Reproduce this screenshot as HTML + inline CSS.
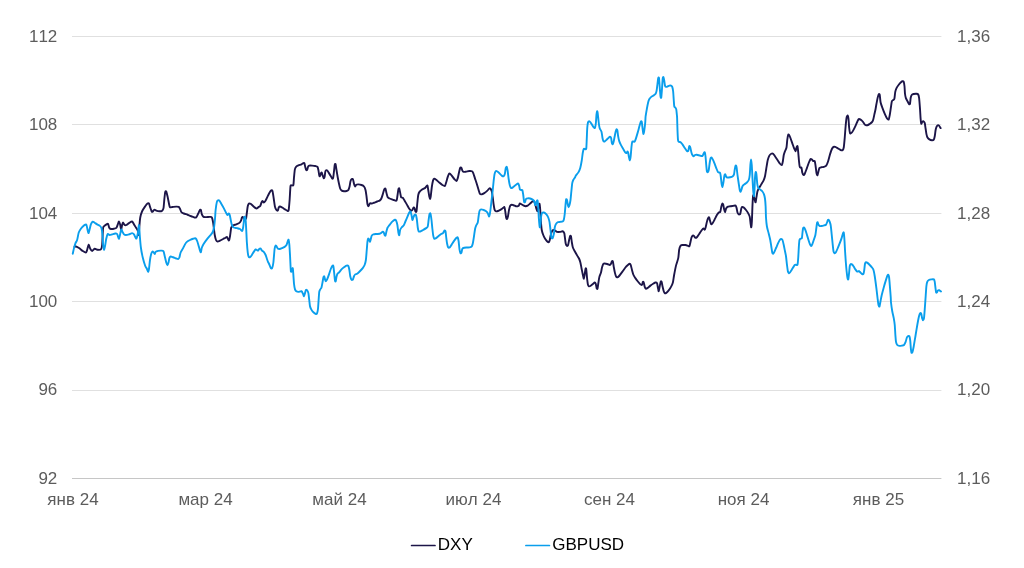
<!DOCTYPE html>
<html><head><meta charset="utf-8"><style>
html,body{margin:0;padding:0;background:#fff;}
body{width:1024px;height:568px;overflow:hidden;position:relative;font-family:"Liberation Sans",sans-serif;}
svg{position:absolute;left:0;top:0;will-change:transform;}
text{font-family:"Liberation Sans",sans-serif;font-size:17px;font-kerning:none;fill:#5c5c5c;}
.leg{fill:#000;}
</style></head><body>
<svg width="1024" height="568" viewBox="0 0 1024 568">
<line x1="72" x2="941.4" y1="36.5" y2="36.5" stroke="#e0e0e0" stroke-width="1"/>
<line x1="72" x2="941.4" y1="124.5" y2="124.5" stroke="#e0e0e0" stroke-width="1"/>
<line x1="72" x2="941.4" y1="213.5" y2="213.5" stroke="#e0e0e0" stroke-width="1"/>
<line x1="72" x2="941.4" y1="301.5" y2="301.5" stroke="#e0e0e0" stroke-width="1"/>
<line x1="72" x2="941.4" y1="390.5" y2="390.5" stroke="#e0e0e0" stroke-width="1"/>
<line x1="72" x2="941.4" y1="478.5" y2="478.5" stroke="#c6c6c6" stroke-width="1"/>
<text x="57.3" y="41.7" text-anchor="end">112</text>
<text x="57.3" y="130.1" text-anchor="end">108</text>
<text x="57.3" y="218.5" text-anchor="end">104</text>
<text x="57.3" y="306.9" text-anchor="end">100</text>
<text x="57.3" y="395.3" text-anchor="end">96</text>
<text x="57.3" y="483.7" text-anchor="end">92</text>
<text x="957" y="41.7">1,36</text>
<text x="957" y="130.1">1,32</text>
<text x="957" y="218.5">1,28</text>
<text x="957" y="306.9">1,24</text>
<text x="957" y="395.3">1,20</text>
<text x="957" y="483.7">1,16</text>
<text x="73" y="505" text-anchor="middle">янв 24</text>
<text x="205.5" y="505" text-anchor="middle">мар 24</text>
<text x="339.5" y="505" text-anchor="middle">май 24</text>
<text x="473.5" y="505" text-anchor="middle">июл 24</text>
<text x="609.5" y="505" text-anchor="middle">сен 24</text>
<text x="743.5" y="505" text-anchor="middle">ноя 24</text>
<text x="878.5" y="505" text-anchor="middle">янв 25</text>
<path fill="none" stroke="#1c1548" stroke-width="1.9" stroke-linejoin="round" stroke-linecap="round" d="M74.5,247C74.59,246.91 74.69,246.12 75.25,246.25C75.81,246.38 78.06,247.41 79,248C79.94,248.59 81.89,250.42 82.75,251C83.61,251.58 85.33,252.75 85.88,252.62C86.43,252.50 86.78,250.98 87.12,250C87.46,249.02 88.23,244.91 88.62,244.75C89.01,244.59 89.81,247.97 90.25,248.75C90.69,249.53 91.57,251.00 92.12,251C92.67,251.00 93.92,248.91 94.62,248.75C95.32,248.59 96.97,249.67 97.75,249.75C98.53,249.83 100.33,249.97 100.88,249.38C101.43,248.79 101.86,247.58 102.12,245C102.39,242.42 102.77,231.09 103,228.75C103.23,226.41 103.56,226.80 104,226.25C104.44,225.70 106.00,224.69 106.5,224.38C107.00,224.07 107.66,223.33 108,223.75C108.34,224.17 108.89,227.09 109.25,227.75C109.61,228.41 110.29,228.88 110.88,229C111.47,229.12 113.30,228.91 114,228.75C114.70,228.59 116.00,228.38 116.5,227.75C117.00,227.12 117.69,224.53 118,223.75C118.31,222.97 118.72,221.34 119,221.5C119.28,221.66 119.98,223.94 120.25,225C120.52,226.06 120.89,230.00 121.12,230C121.35,230.00 121.89,225.94 122.12,225C122.36,224.06 122.69,222.50 123,222.5C123.31,222.50 124.18,224.69 124.62,225C125.06,225.31 125.95,225.24 126.5,225C127.05,224.76 128.30,223.56 129,223.12C129.70,222.68 131.50,221.34 132.12,221.5C132.75,221.66 133.53,223.63 134,224.38C134.47,225.13 135.41,226.72 135.88,227.5C136.35,228.28 137.41,229.68 137.75,230.62C138.09,231.56 138.42,235.55 138.62,235C138.82,234.45 139.18,228.44 139.38,226.25C139.58,224.06 139.91,219.38 140.25,217.5C140.59,215.62 141.50,212.66 142.12,211.25C142.75,209.84 144.58,207.22 145.25,206.25C145.92,205.28 147.03,203.84 147.5,203.5C147.97,203.16 148.66,203.00 149,203.5C149.34,204.00 149.94,206.56 150.25,207.5C150.56,208.44 151.30,210.45 151.5,211C151.70,211.55 151.68,211.85 151.88,211.88C152.08,211.91 152.81,211.53 153.12,211.25C153.43,210.97 153.99,209.70 154.38,209.62C154.77,209.54 155.62,210.42 156.25,210.62C156.88,210.82 158.68,211.22 159.38,211.25C160.08,211.28 161.37,211.27 161.88,210.88C162.39,210.49 163.19,209.64 163.5,208.12C163.81,206.60 164.16,200.78 164.38,198.75C164.60,196.72 165.02,192.79 165.25,191.88C165.48,190.97 165.97,190.95 166.25,191.5C166.53,192.05 167.16,194.72 167.5,196.25C167.84,197.78 168.69,202.38 169,203.75C169.31,205.12 169.56,206.84 170,207.25C170.44,207.66 171.72,207.08 172.5,207C173.28,206.92 175.47,206.63 176.25,206.62C177.03,206.61 178.28,206.61 178.75,206.88C179.22,207.15 179.66,208.08 180,208.75C180.34,209.42 181.03,211.66 181.5,212.25C181.97,212.84 183.00,213.19 183.75,213.5C184.50,213.81 186.56,214.41 187.5,214.75C188.44,215.09 190.39,215.91 191.25,216.25C192.11,216.59 193.75,217.38 194.38,217.5C195.00,217.62 195.78,217.72 196.25,217.25C196.72,216.78 197.68,214.62 198.12,213.75C198.56,212.88 199.41,210.72 199.75,210.25C200.09,209.78 200.61,209.48 200.88,210C201.15,210.52 201.55,213.52 201.88,214.38C202.21,215.24 202.95,216.54 203.5,216.88C204.05,217.22 205.44,217.12 206.25,217.12C207.06,217.12 209.30,216.83 210,216.88C210.70,216.93 211.49,216.80 211.88,217.5C212.27,218.20 212.89,221.25 213.12,222.5C213.35,223.75 213.55,225.94 213.75,227.5C213.95,229.06 214.47,233.44 214.75,235C215.03,236.56 215.66,239.19 216,240C216.34,240.81 217.00,241.42 217.5,241.5C218.00,241.58 219.30,240.93 220,240.62C220.70,240.31 222.42,239.36 223.12,239C223.82,238.64 225.15,238.01 225.62,237.75C226.09,237.49 226.60,236.75 226.88,236.88C227.16,237.00 227.62,238.31 227.88,238.75C228.14,239.19 228.74,240.69 229,240.38C229.26,240.07 229.75,237.70 230,236.25C230.25,234.80 230.84,229.84 231,228.75C231.16,227.66 230.99,227.92 231.25,227.5C231.51,227.08 232.50,225.77 233.12,225.38C233.75,224.99 235.47,224.69 236.25,224.38C237.03,224.07 238.79,223.35 239.38,222.88C239.97,222.41 240.69,221.26 241,220.62C241.31,219.98 241.66,218.22 241.88,217.75C242.10,217.28 242.44,216.75 242.75,216.88C243.06,217.00 243.97,218.52 244.38,218.75C244.79,218.98 245.69,219.53 246,218.75C246.31,217.97 246.66,214.06 246.88,212.5C247.10,210.94 247.49,207.38 247.75,206.25C248.01,205.12 248.64,203.81 249,203.5C249.36,203.19 250.11,203.44 250.62,203.75C251.13,204.06 252.50,205.45 253.12,206C253.75,206.55 255.15,207.82 255.62,208.12C256.09,208.42 256.49,208.53 256.88,208.38C257.27,208.22 258.33,207.18 258.75,206.88C259.17,206.58 259.91,206.55 260.25,206C260.59,205.45 261.22,203.12 261.5,202.5C261.78,201.88 262.22,201.00 262.5,201C262.78,201.00 263.44,202.44 263.75,202.5C264.06,202.56 264.66,201.97 265,201.5C265.34,201.03 266.12,199.49 266.5,198.75C266.88,198.01 267.61,196.40 268,195.62C268.39,194.84 269.21,193.16 269.62,192.5C270.03,191.84 270.89,190.57 271.25,190.38C271.61,190.19 272.19,189.95 272.5,191C272.81,192.05 273.44,196.76 273.75,198.75C274.06,200.74 274.69,205.50 275,206.88C275.31,208.25 275.91,209.28 276.25,209.75C276.59,210.22 277.44,210.90 277.75,210.62C278.06,210.34 278.47,208.01 278.75,207.5C279.03,206.99 279.58,206.50 280,206.5C280.42,206.50 281.54,207.17 282.12,207.5C282.70,207.83 284.00,208.73 284.62,209.12C285.25,209.51 286.62,210.46 287.12,210.62C287.62,210.78 288.31,211.71 288.62,210.38C288.93,209.05 289.38,203.02 289.62,200C289.86,196.98 290.23,188.08 290.5,186.25C290.77,184.42 291.39,185.54 291.75,185.38C292.11,185.22 293.10,185.99 293.38,185C293.66,184.01 293.81,179.45 294,177.5C294.19,175.55 294.60,170.74 294.88,169.38C295.16,168.02 295.81,167.12 296.25,166.62C296.69,166.12 297.72,165.66 298.38,165.38C299.04,165.10 300.88,164.66 301.5,164.38C302.12,164.10 303.02,163.28 303.38,163.12C303.74,162.96 304.15,162.65 304.38,163.12C304.61,163.59 305.02,166.02 305.25,166.88C305.48,167.74 306.00,169.64 306.25,170C306.50,170.36 307.03,170.14 307.25,169.75C307.47,169.36 307.75,167.40 308,166.88C308.25,166.36 308.74,165.78 309.25,165.62C309.76,165.46 311.37,165.57 312.12,165.62C312.87,165.67 314.58,165.84 315.25,166C315.92,166.16 317.09,166.30 317.5,166.88C317.91,167.46 318.26,169.48 318.5,170.62C318.74,171.76 319.16,175.38 319.38,176C319.60,176.62 320.05,175.98 320.25,175.62C320.45,175.26 320.81,173.51 321,173.12C321.19,172.73 321.53,172.19 321.75,172.5C321.97,172.81 322.50,174.92 322.75,175.62C323.00,176.32 323.52,177.96 323.75,178.12C323.98,178.28 324.43,177.66 324.62,176.88C324.81,176.10 325.06,172.71 325.25,171.88C325.44,171.05 325.85,170.41 326.12,170.25C326.39,170.09 327.02,170.26 327.38,170.62C327.74,170.98 328.56,172.42 329,173.12C329.44,173.82 330.49,175.58 330.88,176.25C331.27,176.92 331.84,178.27 332.12,178.5C332.40,178.73 332.88,179.03 333.12,178.12C333.36,177.21 333.80,172.92 334,171.25C334.20,169.58 334.55,165.61 334.75,164.75C334.95,163.89 335.40,163.72 335.62,164.38C335.84,165.04 336.23,168.36 336.5,170C336.77,171.64 337.44,175.78 337.75,177.5C338.06,179.22 338.69,182.34 339,183.75C339.31,185.16 339.91,187.89 340.25,188.75C340.59,189.61 341.28,190.31 341.75,190.62C342.22,190.93 343.41,191.20 344,191.25C344.59,191.30 345.95,191.16 346.5,191C347.05,190.84 347.99,190.59 348.38,190C348.77,189.41 349.36,187.34 349.62,186.25C349.88,185.16 350.23,182.16 350.5,181.25C350.77,180.34 351.44,179.23 351.75,179C352.06,178.77 352.72,178.79 353,179.38C353.28,179.97 353.75,182.86 354,183.75C354.25,184.64 354.72,186.38 355,186.5C355.28,186.62 355.83,185.01 356.25,184.75C356.67,184.49 357.72,184.35 358.38,184.38C359.04,184.41 360.80,184.74 361.5,185C362.20,185.26 363.50,185.88 364,186.5C364.50,187.12 365.19,188.78 365.5,190C365.81,191.22 366.25,194.45 366.5,196.25C366.75,198.05 367.26,203.13 367.5,204.38C367.74,205.63 368.14,206.25 368.38,206.25C368.62,206.25 369.15,204.77 369.38,204.38C369.61,203.99 369.95,203.23 370.25,203.12C370.55,203.01 371.28,203.55 371.75,203.5C372.22,203.45 373.33,203.00 374,202.75C374.67,202.50 376.42,201.77 377.12,201.5C377.82,201.23 379.10,200.96 379.62,200.62C380.14,200.28 380.86,199.53 381.25,198.75C381.64,197.97 382.38,195.55 382.75,194.38C383.12,193.21 383.91,190.08 384.25,189.38C384.59,188.68 385.22,188.28 385.5,188.75C385.78,189.22 386.22,192.06 386.5,193.12C386.78,194.18 387.36,196.58 387.75,197.25C388.14,197.92 389.09,198.23 389.62,198.5C390.15,198.77 391.50,199.19 392,199.38C392.50,199.57 393.06,199.84 393.62,200C394.18,200.16 396.03,201.09 396.5,200.62C396.97,200.15 397.14,197.66 397.38,196.25C397.62,194.84 398.15,190.35 398.38,189.38C398.61,188.41 399.02,188.03 399.25,188.5C399.48,188.97 400.02,192.03 400.25,193.12C400.48,194.21 400.81,196.67 401.12,197.25C401.43,197.83 402.36,197.41 402.75,197.75C403.14,198.09 403.75,199.17 404.25,200C404.75,200.83 406.12,203.29 406.75,204.38C407.38,205.47 408.70,207.97 409.25,208.75C409.80,209.53 410.73,210.46 411.12,210.62C411.51,210.78 412.07,210.39 412.38,210C412.69,209.61 413.36,207.74 413.62,207.5C413.88,207.26 414.26,207.62 414.5,208.12C414.74,208.62 415.25,211.11 415.5,211.5C415.75,211.89 416.26,212.38 416.5,211.25C416.74,210.12 417.16,204.53 417.38,202.5C417.60,200.47 417.99,196.33 418.25,195C418.51,193.67 419.06,192.54 419.5,191.88C419.94,191.22 421.08,190.22 421.75,189.75C422.42,189.28 424.29,188.56 424.88,188.12C425.47,187.68 426.17,186.56 426.5,186.25C426.83,185.94 427.28,185.15 427.5,185.62C427.72,186.09 428.03,188.67 428.25,190C428.47,191.33 429.03,195.12 429.25,196.25C429.47,197.38 429.81,199.00 430,199C430.19,199.00 430.53,197.69 430.75,196.25C430.97,194.81 431.47,189.45 431.75,187.5C432.03,185.55 432.69,181.71 433,180.62C433.31,179.53 433.86,178.86 434.25,178.75C434.64,178.64 435.50,179.28 436.12,179.75C436.75,180.22 438.47,181.84 439.25,182.5C440.03,183.16 441.68,184.56 442.38,185C443.08,185.44 444.41,186.31 444.88,186C445.35,185.69 445.76,183.64 446.12,182.5C446.48,181.36 447.39,177.97 447.75,176.88C448.11,175.79 448.70,174.14 449,173.75C449.30,173.36 449.78,173.52 450.12,173.75C450.46,173.98 451.23,174.96 451.75,175.62C452.27,176.28 453.66,178.33 454.25,179C454.84,179.67 456.06,181.11 456.5,181C456.94,180.89 457.44,179.18 457.75,178.12C458.06,177.06 458.69,173.80 459,172.5C459.31,171.20 459.95,168.34 460.25,167.75C460.55,167.16 461.11,167.39 461.38,167.75C461.65,168.11 462.10,170.10 462.38,170.62C462.66,171.14 463.15,171.75 463.62,171.88C464.09,172.00 465.42,171.73 466.12,171.62C466.82,171.51 468.51,171.05 469.25,171C469.99,170.95 471.50,170.99 472,171.25C472.50,171.51 472.89,172.26 473.25,173.12C473.61,173.98 474.44,176.79 474.88,178.12C475.32,179.45 476.28,182.26 476.75,183.75C477.22,185.24 478.23,188.75 478.62,190C479.01,191.25 479.52,193.20 479.88,193.75C480.24,194.30 480.95,194.46 481.5,194.38C482.05,194.30 483.51,193.59 484.25,193.12C484.99,192.65 486.75,191.20 487.38,190.62C488.00,190.04 488.86,188.73 489.25,188.5C489.64,188.27 490.19,188.41 490.5,188.75C490.81,189.09 491.47,190.16 491.75,191.25C492.03,192.34 492.52,195.86 492.75,197.5C492.98,199.14 493.40,202.89 493.62,204.38C493.84,205.87 494.23,208.52 494.5,209.38C494.77,210.24 495.31,211.05 495.75,211.25C496.19,211.45 497.33,211.23 498,211C498.67,210.77 500.42,209.82 501.12,209.38C501.82,208.94 503.20,207.77 503.62,207.5C504.04,207.23 504.30,206.78 504.5,207.25C504.70,207.72 505.05,209.97 505.25,211.25C505.45,212.53 505.90,216.53 506.12,217.5C506.34,218.47 506.76,219.16 507,219C507.24,218.84 507.75,217.38 508,216.25C508.25,215.12 508.72,211.33 509,210C509.28,208.67 509.91,206.28 510.25,205.62C510.59,204.96 511.33,204.80 511.75,204.75C512.17,204.70 513.09,205.06 513.62,205.25C514.15,205.44 515.50,206.12 516,206.25C516.50,206.38 517.26,206.33 517.62,206.25C517.98,206.17 518.61,205.96 518.88,205.62C519.15,205.28 519.49,203.70 519.75,203.5C520.01,203.30 520.56,203.76 521,204C521.44,204.24 522.66,205.10 523.25,205.38C523.84,205.66 525.20,206.22 525.75,206.25C526.30,206.28 527.07,205.96 527.62,205.62C528.17,205.28 529.50,204.05 530.12,203.5C530.75,202.95 532.15,201.53 532.62,201.25C533.09,200.97 533.57,200.94 533.88,201.25C534.19,201.56 534.81,202.81 535.12,203.75C535.43,204.69 536.07,207.81 536.38,208.75C536.69,209.69 537.36,211.56 537.62,211.25C537.88,210.94 538.26,207.19 538.5,206.25C538.74,205.31 539.28,203.28 539.5,203.75C539.72,204.22 540.06,207.66 540.25,210C540.44,212.34 540.81,220.00 541,222.5C541.19,225.00 541.47,228.44 541.75,230C542.03,231.56 542.83,233.91 543.25,235C543.67,236.09 544.65,237.97 545.12,238.75C545.59,239.53 546.53,240.81 547,241.25C547.47,241.69 548.54,242.41 548.88,242.25C549.22,242.09 549.52,240.91 549.75,240C549.98,239.09 550.47,236.09 550.75,235C551.03,233.91 551.66,231.88 552,231.25C552.34,230.62 553.11,230.08 553.5,230C553.89,229.92 554.68,230.38 555.12,230.62C555.56,230.86 556.38,231.72 557,231.88C557.62,232.04 559.42,231.96 560.12,231.88C560.82,231.80 562.10,231.09 562.62,231.25C563.14,231.41 563.98,232.50 564.25,233.12C564.52,233.75 564.56,234.92 564.75,236.25C564.94,237.58 565.47,242.53 565.75,243.75C566.03,244.97 566.70,245.84 567,246C567.30,246.16 567.86,245.75 568.12,245C568.38,244.25 568.87,241.12 569.12,240C569.37,238.88 569.88,236.47 570.12,236C570.36,235.53 570.78,235.44 571,236.25C571.22,237.06 571.64,241.09 571.88,242.5C572.12,243.91 572.52,246.41 572.88,247.5C573.24,248.59 574.20,250.24 574.75,251.25C575.30,252.26 576.70,254.68 577.25,255.62C577.80,256.56 578.73,257.89 579.12,258.75C579.51,259.61 580.07,261.25 580.38,262.5C580.69,263.75 581.31,267.19 581.62,268.75C581.93,270.31 582.60,273.75 582.88,275C583.16,276.25 583.65,278.91 583.88,278.75C584.11,278.59 584.53,275.03 584.75,273.75C584.97,272.47 585.43,269.05 585.62,268.5C585.81,267.95 586.08,268.25 586.25,269.38C586.42,270.50 586.80,275.62 587,277.5C587.20,279.38 587.66,283.29 587.88,284.38C588.10,285.47 588.44,286.05 588.75,286.25C589.06,286.45 589.86,286.28 590.38,286C590.90,285.72 592.33,284.44 592.88,284C593.43,283.56 594.39,282.53 594.75,282.5C595.11,282.47 595.52,283.05 595.75,283.75C595.98,284.45 596.40,287.50 596.62,288.12C596.84,288.75 597.30,289.30 597.5,288.75C597.70,288.20 598.01,285.23 598.25,283.75C598.49,282.27 599.04,278.29 599.38,276.88C599.72,275.47 600.67,273.67 601,272.5C601.33,271.33 601.72,268.56 602,267.5C602.28,266.44 602.91,264.50 603.25,264C603.59,263.50 604.25,263.50 604.75,263.5C605.25,263.50 606.62,263.81 607.25,264C607.88,264.19 609.28,265.03 609.75,265C610.22,264.97 610.73,264.22 611,263.75C611.27,263.28 611.64,261.53 611.88,261.25C612.12,260.97 612.63,260.72 612.88,261.5C613.13,262.28 613.62,266.05 613.88,267.5C614.14,268.95 614.70,271.95 615,273.12C615.30,274.29 615.94,276.36 616.25,276.88C616.56,277.40 617.14,277.36 617.5,277.25C617.86,277.14 618.53,276.67 619.12,276C619.71,275.33 621.47,272.94 622.25,271.88C623.03,270.82 624.68,268.36 625.38,267.5C626.08,266.64 627.33,265.47 627.88,265C628.43,264.53 629.39,263.75 629.75,263.75C630.11,263.75 630.47,264.22 630.75,265C631.03,265.78 631.66,268.75 632,270C632.34,271.25 633.08,273.99 633.5,275C633.92,276.01 634.83,277.31 635.38,278.12C635.93,278.93 637.25,280.72 637.88,281.5C638.50,282.28 639.87,283.97 640.38,284.38C640.89,284.79 641.69,285.06 642,284.75C642.31,284.44 642.66,282.16 642.88,281.88C643.10,281.60 643.52,281.88 643.75,282.5C643.98,283.12 644.47,286.10 644.75,286.88C645.03,287.66 645.61,288.64 646,288.75C646.39,288.86 647.33,288.14 647.88,287.75C648.43,287.36 649.68,286.15 650.38,285.62C651.08,285.09 652.88,283.89 653.5,283.5C654.12,283.11 654.94,282.55 655.38,282.5C655.82,282.45 656.69,282.50 657,283.12C657.31,283.75 657.66,286.48 657.88,287.5C658.10,288.52 658.52,291.41 658.75,291.25C658.98,291.09 659.50,287.47 659.75,286.25C660.00,285.03 660.52,282.05 660.75,281.5C660.98,280.95 661.40,281.29 661.62,281.88C661.84,282.47 662.23,285.08 662.5,286.25C662.77,287.42 663.47,290.39 663.75,291.25C664.03,292.11 664.44,292.92 664.75,293.12C665.06,293.32 665.78,293.19 666.25,292.88C666.72,292.57 667.91,291.37 668.5,290.62C669.09,289.87 670.45,287.89 671,286.88C671.55,285.87 672.49,283.99 672.88,282.5C673.27,281.01 673.73,277.11 674.12,275C674.51,272.89 675.48,267.73 676,265.62C676.52,263.51 677.86,260.07 678.25,258.12C678.64,256.17 678.85,251.51 679.12,250C679.39,248.49 679.99,246.62 680.38,246C680.77,245.38 681.80,245.12 682.25,245C682.70,244.88 683.58,245.00 684,245C684.42,245.00 685.11,244.89 685.62,245C686.13,245.11 687.65,245.72 688.12,245.88C688.59,246.04 689.10,246.67 689.38,246.25C689.66,245.83 690.12,243.59 690.38,242.5C690.64,241.41 691.20,238.36 691.5,237.5C691.80,236.64 692.44,235.82 692.75,235.62C693.06,235.42 693.69,235.61 694,235.88C694.31,236.15 694.89,237.58 695.25,237.75C695.61,237.92 696.36,237.75 696.88,237.25C697.40,236.75 698.75,234.66 699.38,233.75C700.00,232.84 701.37,230.66 701.88,230C702.39,229.34 703.14,228.53 703.5,228.5C703.86,228.47 704.49,229.88 704.75,229.75C705.01,229.62 705.35,228.48 705.62,227.5C705.89,226.52 706.57,223.05 706.88,221.88C707.19,220.71 707.84,218.70 708.12,218.12C708.40,217.54 708.88,216.94 709.12,217.25C709.36,217.56 709.76,219.78 710,220.62C710.24,221.46 710.72,223.61 711,224C711.28,224.39 711.83,224.25 712.25,223.75C712.67,223.25 713.80,221.09 714.38,220C714.96,218.91 716.33,215.94 716.88,215C717.43,214.06 718.33,212.89 718.75,212.5C719.17,212.11 719.94,212.58 720.25,211.88C720.56,211.18 721.00,207.90 721.25,206.88C721.50,205.86 722.02,204.06 722.25,203.75C722.48,203.44 722.90,203.75 723.12,204.38C723.34,205.00 723.76,207.77 724,208.75C724.24,209.73 724.75,212.25 725,212.25C725.25,212.25 725.69,209.42 726,208.75C726.31,208.08 727.00,207.19 727.5,206.88C728.00,206.57 729.30,206.38 730,206.25C730.70,206.12 732.42,205.96 733.12,205.88C733.82,205.80 735.18,205.34 735.62,205.62C736.06,205.90 736.38,207.26 736.62,208.12C736.86,208.98 737.23,211.72 737.5,212.5C737.77,213.28 738.41,214.22 738.75,214.38C739.09,214.54 739.94,214.45 740.25,213.75C740.56,213.05 741.00,209.61 741.25,208.75C741.50,207.89 741.94,207.04 742.25,206.88C742.56,206.72 743.28,207.11 743.75,207.5C744.22,207.89 745.45,209.30 746,210C746.55,210.70 747.65,212.26 748.12,213.12C748.59,213.98 749.44,215.55 749.75,216.88C750.06,218.21 750.43,222.45 750.62,223.75C750.81,225.05 751.09,227.56 751.25,227.25C751.41,226.94 751.72,224.03 751.88,221.25C752.04,218.47 752.35,208.20 752.5,205C752.65,201.80 752.93,196.63 753.12,195.62C753.31,194.61 753.80,196.33 754,196.88C754.20,197.43 754.55,199.33 754.75,200C754.95,200.67 755.40,202.64 755.62,202.25C755.84,201.86 756.26,198.25 756.5,196.88C756.74,195.50 757.19,192.34 757.5,191.25C757.81,190.16 758.53,188.98 759,188.12C759.47,187.26 760.69,185.32 761.25,184.38C761.81,183.44 763.03,181.64 763.5,180.62C763.97,179.60 764.66,177.73 765,176.25C765.34,174.77 765.91,170.78 766.25,168.75C766.59,166.72 767.36,161.64 767.75,160C768.14,158.36 768.94,156.40 769.38,155.62C769.82,154.84 770.78,153.98 771.25,153.75C771.72,153.52 772.65,153.44 773.12,153.75C773.59,154.06 774.45,155.47 775,156.25C775.55,157.03 776.88,159.06 777.5,160C778.12,160.94 779.45,163.12 780,163.75C780.55,164.38 781.52,165.31 781.88,165C782.24,164.69 782.65,162.50 782.88,161.25C783.11,160.00 783.49,156.25 783.75,155C784.01,153.75 784.66,152.19 785,151.25C785.34,150.31 786.22,148.91 786.5,147.5C786.78,146.09 787.05,141.56 787.25,140C787.45,138.44 787.90,135.66 788.12,135C788.34,134.34 788.73,134.44 789,134.75C789.27,135.06 789.84,136.45 790.25,137.5C790.66,138.55 791.78,141.79 792.25,143.12C792.72,144.45 793.58,147.10 794,148.12C794.42,149.14 795.31,151.33 795.62,151.25C795.93,151.17 796.26,148.12 796.5,147.5C796.74,146.88 797.28,145.62 797.5,146.25C797.72,146.88 798.06,150.62 798.25,152.5C798.44,154.38 798.81,159.45 799,161.25C799.19,163.05 799.55,166.07 799.75,166.88C799.95,167.69 800.40,167.64 800.62,167.75C800.84,167.86 801.30,167.16 801.5,167.75C801.70,168.34 802.00,171.59 802.25,172.5C802.50,173.41 803.19,174.84 803.5,175C803.81,175.16 804.33,174.61 804.75,173.75C805.17,172.89 806.35,169.56 806.88,168.12C807.41,166.68 808.53,163.39 809,162.25C809.47,161.11 810.26,159.36 810.62,159C810.98,158.64 811.57,159.13 811.88,159.38C812.19,159.63 812.76,160.77 813.12,161C813.48,161.23 814.44,160.59 814.75,161.25C815.06,161.91 815.40,164.77 815.62,166.25C815.84,167.73 816.26,172.00 816.5,173.12C816.74,174.25 817.25,175.48 817.5,175.25C817.75,175.02 818.26,172.14 818.5,171.25C818.74,170.36 819.04,168.62 819.38,168.12C819.72,167.62 820.70,167.41 821.25,167.25C821.80,167.09 823.12,167.08 823.75,166.88C824.38,166.68 825.70,166.32 826.25,165.62C826.80,164.92 827.65,162.66 828.12,161.25C828.59,159.84 829.53,155.91 830,154.38C830.47,152.85 831.44,149.94 831.88,149C832.32,148.06 833.08,147.14 833.5,146.88C833.92,146.62 834.67,146.68 835.25,146.88C835.83,147.08 837.45,148.11 838.12,148.5C838.79,148.89 840.07,149.78 840.62,150C841.17,150.22 842.11,150.56 842.5,150.25C842.89,149.94 843.47,149.09 843.75,147.5C844.03,145.91 844.52,140.16 844.75,137.5C844.98,134.84 845.39,128.75 845.62,126.25C845.85,123.75 846.35,118.83 846.62,117.5C846.89,116.17 847.51,115.46 847.75,115.62C847.99,115.78 848.33,117.27 848.5,118.75C848.67,120.23 848.93,125.70 849.12,127.5C849.31,129.30 849.73,132.42 850,133.12C850.27,133.82 850.86,133.43 851.25,133.12C851.64,132.81 852.57,131.56 853.12,130.62C853.67,129.68 855.07,126.79 855.62,125.62C856.17,124.45 857.11,122.06 857.5,121.25C857.89,120.44 858.41,119.35 858.75,119.12C859.09,118.89 859.78,119.11 860.25,119.38C860.72,119.65 861.95,120.62 862.5,121.25C863.05,121.88 864.15,123.88 864.62,124.38C865.09,124.88 865.83,125.17 866.25,125.25C866.67,125.33 867.61,125.14 868,125C868.39,124.86 868.89,124.46 869.38,124.12C869.87,123.78 871.41,122.77 871.88,122.25C872.35,121.73 872.81,120.98 873.12,120C873.43,119.02 874.07,115.79 874.38,114.38C874.69,112.97 875.39,109.92 875.62,108.75C875.85,107.58 875.97,106.48 876.25,105C876.53,103.52 877.54,98.25 877.88,96.88C878.22,95.50 878.77,94.23 879,94C879.23,93.77 879.55,93.94 879.75,95C879.95,96.06 880.28,100.86 880.62,102.5C880.96,104.14 881.95,106.64 882.5,108.12C883.05,109.61 884.41,113.05 885,114.38C885.59,115.71 886.78,118.12 887.25,118.75C887.72,119.38 888.44,119.85 888.75,119.38C889.06,118.91 889.48,116.48 889.75,115C890.02,113.52 890.61,109.22 890.88,107.5C891.15,105.78 891.60,102.19 891.88,101.25C892.16,100.31 892.81,100.31 893.12,100C893.43,99.69 894.11,99.77 894.38,98.75C894.65,97.73 894.99,93.21 895.25,91.88C895.51,90.55 896.06,89.01 896.5,88.12C896.94,87.23 898.19,85.48 898.75,84.75C899.31,84.02 900.53,82.69 901,82.25C901.47,81.81 902.16,81.30 902.5,81.25C902.84,81.20 903.50,81.25 903.75,81.88C904.00,82.50 904.34,84.77 904.5,86.25C904.66,87.73 904.83,92.27 905,93.75C905.17,95.23 905.57,97.18 905.88,98.12C906.19,99.06 907.11,100.52 907.5,101.25C907.89,101.98 908.69,103.69 909,104C909.31,104.31 909.78,104.56 910,103.75C910.22,102.94 910.51,98.62 910.75,97.5C910.99,96.38 911.50,95.19 911.88,94.75C912.25,94.31 913.20,94.12 913.75,94C914.30,93.88 915.70,93.70 916.25,93.75C916.80,93.80 917.76,93.83 918.12,94.38C918.48,94.93 918.88,96.32 919.12,98.12C919.36,99.92 919.81,106.17 920,108.75C920.19,111.33 920.46,116.88 920.62,118.75C920.78,120.62 921.05,123.36 921.25,123.75C921.45,124.14 921.97,122.19 922.25,121.88C922.53,121.57 923.19,121.09 923.5,121.25C923.81,121.41 924.49,122.18 924.75,123.12C925.01,124.06 925.40,127.34 925.62,128.75C925.84,130.16 926.26,133.29 926.5,134.38C926.74,135.47 927.14,136.88 927.5,137.5C927.86,138.12 928.83,139.04 929.38,139.38C929.93,139.72 931.33,140.20 931.88,140.25C932.43,140.30 933.39,140.25 933.75,139.75C934.11,139.25 934.52,137.47 934.75,136.25C934.98,135.03 935.40,131.17 935.62,130C935.84,128.83 936.23,127.47 936.5,126.88C936.77,126.29 937.44,125.41 937.75,125.25C938.06,125.09 938.64,125.26 939,125.62C939.36,125.98 940.42,127.81 940.62,128.12"/>
<path fill="none" stroke="#0a9eec" stroke-width="1.9" stroke-linejoin="round" stroke-linecap="round" d="M72.75,253.75C72.91,253.05 73.66,249.45 74,248.12C74.34,246.79 75.11,244.13 75.5,243.12C75.89,242.11 76.71,241.33 77.12,240C77.53,238.67 78.28,233.91 78.75,232.5C79.22,231.09 80.30,229.56 80.88,228.75C81.46,227.94 82.83,226.50 83.38,226C83.93,225.50 84.86,224.88 85.25,224.75C85.64,224.62 86.19,224.27 86.5,225C86.81,225.73 87.48,229.61 87.75,230.62C88.02,231.63 88.39,233.28 88.62,233.12C88.85,232.97 89.34,230.47 89.62,229.38C89.90,228.29 90.49,225.35 90.88,224.38C91.27,223.41 92.28,221.82 92.75,221.62C93.22,221.42 94.07,222.41 94.62,222.75C95.17,223.09 96.50,224.02 97.12,224.38C97.75,224.74 99.07,225.15 99.62,225.62C100.17,226.09 101.14,226.95 101.5,228.12C101.86,229.29 102.30,232.89 102.5,235C102.70,237.11 102.93,243.16 103.12,245C103.31,246.84 103.77,249.59 104,249.75C104.23,249.91 104.72,247.62 105,246.25C105.28,244.88 105.91,240.28 106.25,238.75C106.59,237.22 107.33,234.47 107.75,234C108.17,233.53 109.07,234.95 109.62,235C110.17,235.05 111.42,234.57 112.12,234.38C112.82,234.19 114.62,233.55 115.25,233.5C115.88,233.45 116.76,233.58 117.12,234C117.48,234.42 117.89,236.29 118.12,236.88C118.36,237.47 118.77,238.99 119,238.75C119.23,238.51 119.72,236.17 120,235C120.28,233.83 120.94,229.77 121.25,229.38C121.56,228.99 122.16,231.25 122.5,231.88C122.84,232.50 123.58,233.99 124,234.38C124.42,234.77 125.25,235.00 125.88,235C126.50,235.00 128.22,234.62 129,234.38C129.78,234.14 131.50,233.12 132.12,233.12C132.75,233.12 133.58,233.83 134,234.38C134.42,234.93 135.19,236.99 135.5,237.5C135.81,238.01 136.22,238.97 136.5,238.5C136.78,238.03 137.44,235.44 137.75,233.75C138.06,232.06 138.75,224.84 139,225C139.25,225.16 139.51,232.19 139.75,235C139.99,237.81 140.50,244.69 140.88,247.5C141.25,250.31 142.20,255.19 142.75,257.5C143.30,259.81 144.73,264.59 145.25,266C145.77,267.41 146.52,268.01 146.88,268.75C147.24,269.49 147.86,271.88 148.12,271.88C148.38,271.88 148.76,270.24 149,268.75C149.24,267.26 149.72,261.88 150,260C150.28,258.12 150.94,254.81 151.25,253.75C151.56,252.69 152.19,251.66 152.5,251.5C152.81,251.34 153.47,252.19 153.75,252.5C154.03,252.81 154.52,254.08 154.75,254C154.98,253.92 155.20,252.27 155.62,251.88C156.04,251.49 157.42,251.04 158.12,250.88C158.82,250.72 160.58,250.57 161.25,250.62C161.92,250.67 163.06,250.55 163.5,251.25C163.94,251.95 164.41,254.84 164.75,256.25C165.09,257.66 165.91,261.36 166.25,262.5C166.59,263.64 167.22,265.38 167.5,265.38C167.78,265.38 168.26,263.41 168.5,262.5C168.74,261.59 169.12,258.87 169.38,258.12C169.64,257.37 170.15,256.61 170.62,256.5C171.09,256.39 172.42,257.00 173.12,257.25C173.82,257.50 175.62,258.28 176.25,258.5C176.88,258.72 177.73,259.12 178.12,259C178.51,258.88 179.07,258.31 179.38,257.5C179.69,256.69 180.15,253.67 180.62,252.5C181.09,251.33 182.57,249.13 183.12,248.12C183.67,247.11 184.53,245.16 185,244.38C185.47,243.60 186.25,242.43 186.88,241.88C187.50,241.33 189.22,240.39 190,240C190.78,239.61 192.42,238.95 193.12,238.75C193.82,238.55 195.10,238.07 195.62,238.38C196.14,238.69 196.86,240.27 197.25,241.25C197.64,242.23 198.41,245.08 198.75,246.25C199.09,247.42 199.73,249.87 200,250.62C200.27,251.37 200.64,252.64 200.88,252.25C201.12,251.86 201.52,248.56 201.88,247.5C202.24,246.44 203.12,244.76 203.75,243.75C204.38,242.74 206.10,240.40 206.88,239.38C207.66,238.36 209.30,236.48 210,235.62C210.70,234.76 212.00,233.51 212.5,232.5C213.00,231.49 213.69,229.22 214,227.5C214.31,225.78 214.80,220.94 215,218.75C215.20,216.56 215.38,212.11 215.62,210C215.86,207.89 216.57,203.08 216.88,201.88C217.19,200.68 217.81,200.54 218.12,200.38C218.43,200.22 218.99,200.20 219.38,200.62C219.77,201.04 220.70,202.81 221.25,203.75C221.80,204.69 223.12,206.95 223.75,208.12C224.38,209.29 225.78,212.26 226.25,213.12C226.72,213.98 227.19,214.95 227.5,215C227.81,215.05 228.47,213.50 228.75,213.5C229.03,213.50 229.47,214.03 229.75,215C230.03,215.97 230.73,220.00 231,221.25C231.27,222.50 231.54,224.22 231.88,225C232.22,225.78 233.12,227.11 233.75,227.5C234.38,227.89 236.10,227.93 236.88,228.12C237.66,228.31 239.33,228.64 240,229C240.67,229.36 241.86,231.19 242.25,231C242.64,230.81 242.90,228.88 243.12,227.5C243.34,226.12 243.84,221.33 244,220C244.16,218.67 244.22,217.19 244.38,216.88C244.54,216.57 245.08,216.95 245.25,217.5C245.42,218.05 245.62,219.69 245.75,221.25C245.88,222.81 246.11,227.34 246.25,230C246.39,232.66 246.69,239.69 246.88,242.5C247.07,245.31 247.52,250.70 247.75,252.5C247.98,254.30 248.47,256.29 248.75,256.88C249.03,257.47 249.61,257.49 250,257.25C250.39,257.01 251.41,255.67 251.88,255C252.35,254.33 253.28,252.58 253.75,251.88C254.22,251.18 255.23,249.62 255.62,249.38C256.01,249.14 256.57,249.84 256.88,250C257.19,250.16 257.81,250.78 258.12,250.62C258.43,250.46 259.07,249.01 259.38,248.75C259.69,248.49 260.31,248.27 260.62,248.5C260.93,248.73 261.49,250.20 261.88,250.62C262.27,251.04 263.28,251.33 263.75,251.88C264.22,252.43 265.23,254.14 265.62,255C266.01,255.86 266.58,257.89 266.88,258.75C267.18,259.61 267.74,261.25 268,261.88C268.26,262.50 268.64,262.97 269,263.75C269.36,264.53 270.49,267.57 270.88,268.12C271.27,268.67 271.81,268.82 272.12,268.12C272.43,267.42 273.07,264.92 273.38,262.5C273.69,260.08 274.34,250.86 274.62,248.75C274.90,246.64 275.38,245.93 275.62,245.62C275.86,245.31 276.23,245.89 276.5,246.25C276.77,246.61 277.36,248.16 277.75,248.5C278.14,248.84 279.07,249.05 279.62,249C280.17,248.95 281.50,248.38 282.12,248.12C282.75,247.86 284.07,247.27 284.62,246.88C285.17,246.49 286.11,245.70 286.5,245C286.89,244.30 287.49,241.91 287.75,241.25C288.01,240.59 288.42,239.28 288.62,239.75C288.82,240.22 289.21,243.09 289.38,245C289.55,246.91 289.89,253.12 290,255C290.11,256.88 290.14,257.97 290.25,260C290.36,262.03 290.69,269.92 290.88,271.25C291.07,272.58 291.52,271.01 291.75,270.62C291.98,270.23 292.55,267.57 292.75,268.12C292.95,268.67 293.22,273.05 293.38,275C293.54,276.95 293.80,281.95 294,283.75C294.20,285.55 294.72,288.44 295,289.38C295.28,290.32 295.83,290.94 296.25,291.25C296.67,291.56 297.72,291.88 298.38,291.88C299.04,291.88 300.92,291.02 301.5,291.25C302.08,291.48 302.69,293.12 303,293.75C303.31,294.38 303.75,296.33 304,296.25C304.25,296.17 304.76,293.90 305,293.12C305.24,292.34 305.62,290.36 305.88,290C306.14,289.64 306.81,289.86 307.12,290.25C307.43,290.64 308.11,291.90 308.38,293.12C308.65,294.34 309.05,298.36 309.25,300C309.45,301.64 309.75,305.08 310,306.25C310.25,307.42 310.83,308.63 311.25,309.38C311.67,310.13 312.80,311.67 313.38,312.25C313.96,312.83 315.41,313.89 315.88,314C316.35,314.11 316.86,313.78 317.12,313.12C317.38,312.46 317.81,310.39 318,308.75C318.19,307.11 318.46,302.11 318.62,300C318.78,297.89 319.05,293.21 319.25,291.88C319.45,290.55 319.97,289.93 320.25,289.38C320.53,288.83 321.22,288.36 321.5,287.5C321.78,286.64 322.26,283.75 322.5,282.5C322.74,281.25 323.16,278.28 323.38,277.5C323.60,276.72 324.05,276.01 324.25,276.25C324.45,276.49 324.80,278.75 325,279.38C325.20,280.00 325.62,281.25 325.88,281.25C326.14,281.25 326.73,280.24 327.12,279.38C327.51,278.52 328.53,275.71 329,274.38C329.47,273.05 330.44,269.85 330.88,268.75C331.32,267.65 332.19,265.93 332.5,265.62C332.81,265.31 333.16,265.23 333.38,266.25C333.60,267.27 334.05,271.95 334.25,273.75C334.45,275.55 334.81,279.68 335,280.62C335.19,281.56 335.56,281.72 335.75,281.25C335.94,280.78 336.28,277.82 336.5,276.88C336.72,275.94 337.19,274.30 337.5,273.75C337.81,273.20 338.50,273.05 339,272.5C339.50,271.95 340.80,270.08 341.5,269.38C342.20,268.68 344.00,267.35 344.62,266.88C345.25,266.41 346.03,265.73 346.5,265.62C346.97,265.51 348.02,265.45 348.38,266C348.74,266.55 349.15,268.72 349.38,270C349.61,271.28 349.99,275.03 350.25,276.25C350.51,277.47 351.16,279.36 351.5,279.75C351.84,280.14 352.69,279.82 353,279.38C353.31,278.94 353.72,276.88 354,276.25C354.28,275.62 354.86,274.69 355.25,274.38C355.64,274.07 356.57,274.11 357.12,273.75C357.67,273.39 358.92,272.20 359.62,271.5C360.32,270.80 362.12,268.93 362.75,268.12C363.38,267.31 364.23,266.01 364.62,265C365.01,263.99 365.61,261.88 365.88,260C366.15,258.12 366.55,252.34 366.75,250C366.95,247.66 367.33,242.69 367.5,241.25C367.67,239.81 367.93,238.73 368.12,238.5C368.31,238.27 368.76,238.96 369,239.38C369.24,239.80 369.76,241.96 370,241.88C370.24,241.80 370.66,239.53 370.88,238.75C371.10,237.97 371.44,236.17 371.75,235.62C372.06,235.07 372.79,234.58 373.38,234.38C373.97,234.18 375.72,234.08 376.5,234C377.28,233.92 379.00,233.91 379.62,233.75C380.25,233.59 381.11,233.02 381.5,232.75C381.89,232.48 382.47,231.65 382.75,231.62C383.03,231.59 383.52,232.08 383.75,232.5C383.98,232.92 384.40,234.61 384.62,235C384.84,235.39 385.26,236.09 385.5,235.62C385.74,235.15 386.25,232.23 386.5,231.25C386.75,230.27 387.19,228.45 387.5,227.75C387.81,227.05 388.62,226.12 389,225.62C389.38,225.12 390.12,224.22 390.5,223.75C390.88,223.28 391.45,222.38 392,221.88C392.55,221.38 394.37,219.91 394.88,219.75C395.39,219.59 395.81,219.96 396.12,220.62C396.43,221.28 397.10,223.51 397.38,225C397.66,226.49 398.15,231.22 398.38,232.5C398.61,233.78 399.03,235.56 399.25,235.25C399.47,234.94 399.81,231.00 400.12,230C400.43,229.00 401.31,227.80 401.75,227.25C402.19,226.70 403.15,226.37 403.62,225.62C404.09,224.87 405.03,222.34 405.5,221.25C405.97,220.16 406.91,217.97 407.38,216.88C407.85,215.79 408.86,213.17 409.25,212.5C409.64,211.83 410.22,211.19 410.5,211.5C410.78,211.81 411.26,213.94 411.5,215C411.74,216.06 412.14,219.69 412.38,220C412.62,220.31 413.12,218.12 413.38,217.5C413.64,216.88 414.20,215.34 414.5,215C414.80,214.66 415.47,214.28 415.75,214.75C416.03,215.22 416.50,217.16 416.75,218.75C417.00,220.34 417.52,225.94 417.75,227.5C417.98,229.06 418.31,230.75 418.62,231.25C418.93,231.75 419.70,231.66 420.25,231.5C420.80,231.34 422.27,230.42 423,230C423.73,229.58 425.53,228.56 426.12,228.12C426.71,227.68 427.44,227.51 427.75,226.5C428.06,225.49 428.40,221.56 428.62,220C428.84,218.44 429.26,214.78 429.5,214C429.74,213.22 430.25,213.00 430.5,213.75C430.75,214.50 431.26,218.12 431.5,220C431.74,221.88 432.16,226.80 432.38,228.75C432.60,230.70 433.02,234.37 433.25,235.62C433.48,236.87 433.89,238.44 434.25,238.75C434.61,239.06 435.57,238.46 436.12,238.12C436.67,237.78 438.00,236.51 438.62,236C439.25,235.49 440.57,234.36 441.12,234C441.67,233.64 442.58,233.54 443,233.12C443.42,232.70 444.19,230.85 444.5,230.62C444.81,230.39 445.28,230.39 445.5,231.25C445.72,232.11 446.05,235.94 446.25,237.5C446.45,239.06 446.87,242.50 447.12,243.75C447.37,245.00 447.90,247.06 448.25,247.5C448.60,247.94 449.44,247.64 449.88,247.25C450.32,246.86 451.20,245.21 451.75,244.38C452.30,243.55 453.66,241.45 454.25,240.62C454.84,239.79 456.06,238.14 456.5,237.75C456.94,237.36 457.49,237.06 457.75,237.5C458.01,237.94 458.40,239.76 458.62,241.25C458.84,242.74 459.26,247.90 459.5,249.38C459.74,250.86 460.25,252.73 460.5,253.12C460.75,253.51 461.26,253.05 461.5,252.5C461.74,251.95 462.04,249.34 462.38,248.75C462.72,248.16 463.62,247.91 464.25,247.75C464.88,247.59 466.60,247.58 467.38,247.5C468.16,247.42 469.92,247.31 470.5,247.12C471.08,246.93 471.69,246.58 472,246C472.31,245.42 472.75,243.72 473,242.5C473.25,241.28 473.74,237.97 474,236.25C474.26,234.53 474.86,230.08 475.12,228.75C475.38,227.42 475.79,226.40 476.12,225.62C476.45,224.84 477.44,223.67 477.75,222.5C478.06,221.33 478.40,217.69 478.62,216.25C478.84,214.81 479.19,211.86 479.5,211C479.81,210.14 480.61,209.50 481.12,209.38C481.63,209.25 483.00,209.77 483.62,210C484.25,210.23 485.60,210.86 486.12,211.25C486.64,211.64 487.39,212.46 487.75,213.12C488.11,213.78 488.73,216.42 489,216.5C489.27,216.58 489.66,214.88 489.88,213.75C490.10,212.62 490.52,209.38 490.75,207.5C490.98,205.62 491.50,200.94 491.75,198.75C492.00,196.56 492.52,192.19 492.75,190C492.98,187.81 493.40,183.20 493.62,181.25C493.84,179.30 494.26,175.60 494.5,174.38C494.74,173.16 495.19,171.89 495.5,171.5C495.81,171.11 496.53,171.05 497,171.25C497.47,171.45 498.66,172.57 499.25,173.12C499.84,173.67 501.20,175.23 501.75,175.62C502.30,176.01 503.23,176.48 503.62,176.25C504.01,176.02 504.61,174.77 504.88,173.75C505.15,172.73 505.52,168.98 505.75,168.12C505.98,167.26 506.52,166.57 506.75,166.88C506.98,167.19 507.39,169.14 507.62,170.62C507.85,172.10 508.34,176.88 508.62,178.75C508.90,180.62 509.57,184.45 509.88,185.62C510.19,186.79 510.73,187.92 511.12,188.12C511.51,188.32 512.39,187.67 513,187.25C513.61,186.83 515.38,185.22 516,184.75C516.62,184.28 517.61,183.39 518,183.5C518.39,183.61 518.88,184.88 519.12,185.62C519.36,186.36 519.64,188.83 519.88,189.38C520.12,189.93 520.69,189.89 521,190C521.31,190.11 522.10,189.62 522.38,190.25C522.66,190.88 523.03,193.55 523.25,195C523.47,196.45 523.89,201.02 524.12,201.88C524.35,202.74 524.88,202.24 525.12,201.88C525.36,201.52 525.69,199.44 526,199C526.31,198.56 527.11,198.44 527.62,198.38C528.13,198.32 529.50,198.34 530.12,198.5C530.75,198.66 532.10,199.28 532.62,199.62C533.14,199.96 533.94,200.58 534.25,201.25C534.56,201.92 534.90,204.61 535.12,205C535.34,205.39 535.80,204.85 536,204.38C536.20,203.91 536.55,201.72 536.75,201.25C536.95,200.78 537.43,199.84 537.62,200.62C537.81,201.40 538.09,205.23 538.25,207.5C538.41,209.77 538.69,216.28 538.88,218.75C539.07,221.22 539.55,226.62 539.75,227.25C539.95,227.88 540.33,225.12 540.5,223.75C540.67,222.38 540.93,217.58 541.12,216.25C541.31,214.92 541.65,213.59 542,213.12C542.35,212.65 543.33,212.34 543.88,212.5C544.43,212.66 545.83,213.75 546.38,214.38C546.93,215.00 547.86,216.56 548.25,217.5C548.64,218.44 549.22,220.32 549.5,221.88C549.78,223.44 550.26,228.05 550.5,230C550.74,231.95 551.12,236.49 551.38,237.5C551.64,238.51 552.31,238.59 552.62,238.12C552.93,237.65 553.61,235.08 553.88,233.75C554.15,232.42 554.52,228.67 554.75,227.5C554.98,226.33 555.39,225.04 555.75,224.38C556.11,223.72 557.07,222.56 557.62,222.25C558.17,221.94 559.50,221.97 560.12,221.88C560.75,221.79 562.15,221.81 562.62,221.5C563.09,221.19 563.61,220.35 563.88,219.38C564.15,218.41 564.55,215.55 564.75,213.75C564.95,211.95 565.33,206.80 565.5,205C565.67,203.20 565.93,200.00 566.12,199.38C566.31,198.75 566.78,199.30 567,200C567.22,200.70 567.68,204.09 567.88,205C568.08,205.91 568.42,207.25 568.62,207.25C568.82,207.25 569.26,205.91 569.5,205C569.74,204.09 570.26,201.72 570.5,200C570.74,198.28 571.16,193.36 571.38,191.25C571.60,189.14 572.02,184.53 572.25,183.12C572.48,181.71 572.89,180.73 573.25,180C573.61,179.27 574.79,177.81 575.12,177.25C575.45,176.69 575.47,176.11 575.88,175.5C576.29,174.89 577.83,173.32 578.38,172.38C578.93,171.44 579.83,169.49 580.25,168C580.67,166.51 581.44,162.38 581.75,160.5C582.06,158.62 582.50,154.44 582.75,153C583.00,151.56 583.47,149.50 583.75,149C584.03,148.50 584.69,149.05 585,149C585.31,148.95 586.03,149.84 586.25,148.62C586.47,147.40 586.62,141.83 586.75,139.25C586.88,136.67 587.09,130.11 587.25,128C587.41,125.89 587.75,123.24 588,122.38C588.25,121.52 588.94,121.12 589.25,121.12C589.56,121.12 590.14,121.91 590.5,122.38C590.86,122.85 591.71,124.25 592.12,124.88C592.53,125.50 593.39,127.02 593.75,127.38C594.11,127.74 594.73,128.30 595,127.75C595.27,127.20 595.69,124.69 595.88,123C596.07,121.31 596.35,115.73 596.5,114.25C596.65,112.77 596.96,111.20 597.12,111.12C597.28,111.04 597.56,112.29 597.75,113.62C597.94,114.95 598.39,119.95 598.62,121.75C598.85,123.55 599.26,126.75 599.62,128C599.98,129.25 601.14,130.50 601.5,131.75C601.86,133.00 602.26,136.83 602.5,138C602.74,139.17 603.12,140.68 603.38,141.12C603.64,141.56 604.23,141.66 604.62,141.5C605.01,141.34 606.03,140.32 606.5,139.88C606.97,139.44 607.94,138.39 608.38,138C608.82,137.61 609.66,136.75 610,136.75C610.34,136.75 610.88,137.22 611.12,138C611.36,138.78 611.68,142.22 611.88,143C612.08,143.78 612.53,144.41 612.75,144.25C612.97,144.09 613.39,142.69 613.62,141.75C613.85,140.81 614.37,138.00 614.62,136.75C614.87,135.50 615.38,132.69 615.62,131.75C615.86,130.81 616.28,129.41 616.5,129.25C616.72,129.09 617.18,129.64 617.38,130.5C617.58,131.36 617.89,134.79 618.12,136.12C618.35,137.45 618.90,140.03 619.25,141.12C619.60,142.22 620.41,143.94 620.88,144.88C621.35,145.82 622.45,147.68 623,148.62C623.55,149.56 624.81,151.83 625.25,152.38C625.69,152.93 626.22,153.11 626.5,153C626.78,152.89 627.28,151.50 627.5,151.5C627.72,151.50 628.06,152.26 628.25,153C628.44,153.74 628.80,156.47 629,157.38C629.20,158.29 629.68,160.33 629.88,160.25C630.08,160.17 630.42,158.44 630.62,156.75C630.82,155.06 631.30,148.62 631.5,146.75C631.70,144.88 632.01,142.41 632.25,141.75C632.49,141.09 633.08,141.50 633.38,141.5C633.68,141.50 634.31,142.11 634.62,141.75C634.93,141.39 635.49,139.79 635.88,138.62C636.27,137.45 637.28,134.02 637.75,132.38C638.22,130.74 639.23,126.86 639.62,125.5C640.01,124.14 640.61,121.97 640.88,121.5C641.15,121.03 641.55,120.94 641.75,121.75C641.95,122.56 642.30,126.47 642.5,128C642.70,129.53 643.16,133.69 643.38,134C643.60,134.31 644.02,131.95 644.25,130.5C644.48,129.05 645.08,124.16 645.25,122.38C645.42,120.60 645.42,117.95 645.62,116.25C645.82,114.55 646.57,110.47 646.88,108.75C647.19,107.03 647.81,103.72 648.12,102.5C648.43,101.28 648.99,99.70 649.38,99C649.77,98.30 650.70,97.33 651.25,96.88C651.80,96.43 653.20,95.77 653.75,95.38C654.30,94.99 655.26,94.34 655.62,93.75C655.98,93.16 656.38,91.87 656.62,90.62C656.86,89.37 657.30,85.31 657.5,83.75C657.70,82.19 658.06,78.82 658.25,78.12C658.44,77.42 658.81,76.95 659,78.12C659.19,79.29 659.56,85.23 659.75,87.5C659.94,89.77 660.31,95.00 660.5,96.25C660.69,97.50 661.06,98.44 661.25,97.5C661.44,96.56 661.81,91.17 662,88.75C662.19,86.33 662.56,79.56 662.75,78.12C662.94,76.68 663.31,76.94 663.5,77.25C663.69,77.56 664.06,79.57 664.25,80.62C664.44,81.67 664.78,84.84 665,85.62C665.22,86.40 665.69,86.77 666,86.88C666.31,86.99 667.08,86.66 667.5,86.5C667.92,86.34 668.94,85.73 669.38,85.62C669.82,85.51 670.64,85.46 671,85.62C671.36,85.78 671.99,86.18 672.25,86.88C672.51,87.58 672.93,89.61 673.12,91.25C673.31,92.89 673.61,98.12 673.75,100C673.89,101.88 674.06,105.31 674.25,106.25C674.44,107.19 675.00,107.11 675.25,107.5C675.50,107.89 676.05,108.44 676.25,109.38C676.45,110.32 676.77,113.92 676.88,115C676.99,116.08 677.04,116.06 677.12,118C677.20,119.94 677.39,127.77 677.5,130.5C677.61,133.24 677.84,138.47 678,139.88C678.16,141.29 678.39,141.44 678.75,141.75C679.11,142.06 680.38,141.99 680.88,142.38C681.38,142.77 682.24,144.15 682.75,144.88C683.26,145.61 684.45,147.47 685,148.25C685.55,149.03 686.70,150.84 687.12,151.12C687.54,151.40 688.11,151.12 688.38,150.5C688.65,149.88 689.02,146.51 689.25,146.12C689.48,145.73 690.00,146.68 690.25,147.38C690.50,148.08 691.03,150.89 691.25,151.75C691.47,152.61 691.72,153.69 692,154.25C692.28,154.81 693.12,156.16 693.5,156.25C693.88,156.34 694.58,155.19 695,155C695.42,154.81 696.25,154.67 696.88,154.75C697.50,154.83 699.30,155.46 700,155.62C700.70,155.78 702.03,156.31 702.5,156C702.97,155.69 703.47,153.59 703.75,153.12C704.03,152.65 704.53,151.86 704.75,152.25C704.97,152.64 705.31,154.66 705.5,156.25C705.69,157.84 706.08,163.12 706.25,165C706.42,166.88 706.69,170.34 706.88,171.25C707.07,172.16 707.52,172.41 707.75,172.25C707.98,172.09 708.50,171.22 708.75,170C709.00,168.78 709.52,163.99 709.75,162.5C709.98,161.01 710.39,158.75 710.62,158.12C710.85,157.50 711.35,157.34 711.62,157.5C711.89,157.66 712.40,158.68 712.75,159.38C713.10,160.08 713.94,162.03 714.38,163.12C714.82,164.21 715.78,166.98 716.25,168.12C716.72,169.26 717.65,171.67 718.12,172.25C718.59,172.83 719.67,172.25 720,172.75C720.33,173.25 720.55,174.88 720.75,176.25C720.95,177.62 721.40,182.42 721.62,183.75C721.84,185.08 722.28,187.04 722.5,186.88C722.72,186.72 723.14,183.91 723.38,182.5C723.62,181.09 724.15,176.63 724.38,175.62C724.61,174.61 725.02,174.22 725.25,174.38C725.48,174.54 725.97,176.49 726.25,176.88C726.53,177.27 727.03,177.45 727.5,177.5C727.97,177.55 729.38,177.38 730,177.25C730.62,177.12 732.00,176.86 732.5,176.5C733.00,176.14 733.72,175.27 734,174.38C734.28,173.49 734.55,170.47 734.75,169.38C734.95,168.28 735.40,165.93 735.62,165.62C735.84,165.31 736.26,165.71 736.5,166.88C736.74,168.05 737.22,172.89 737.5,175C737.78,177.11 738.47,181.88 738.75,183.75C739.03,185.62 739.52,188.98 739.75,190C739.98,191.02 740.40,191.96 740.62,191.88C740.84,191.80 741.26,190.08 741.5,189.38C741.74,188.68 742.14,186.88 742.5,186.25C742.86,185.62 743.83,184.85 744.38,184.38C744.93,183.91 746.33,183.05 746.88,182.5C747.43,181.95 748.39,180.94 748.75,180C749.11,179.06 749.55,176.88 749.75,175C749.95,173.12 750.22,166.95 750.38,165C750.54,163.05 750.83,159.38 751,159.38C751.17,159.38 751.56,162.58 751.75,165C751.94,167.42 752.31,175.47 752.5,178.75C752.69,182.03 753.06,189.06 753.25,191.25C753.44,193.44 753.84,196.41 754,196.25C754.16,196.09 754.38,192.34 754.5,190C754.62,187.66 754.84,179.76 755,177.5C755.16,175.24 755.56,172.19 755.75,171.88C755.94,171.57 756.31,173.52 756.5,175C756.69,176.48 757.05,182.19 757.25,183.75C757.45,185.31 757.78,186.80 758.12,187.5C758.46,188.20 759.48,188.91 760,189.38C760.52,189.85 761.75,190.62 762.25,191.25C762.75,191.88 763.66,193.44 764,194.38C764.34,195.32 764.80,197.27 765,198.75C765.20,200.23 765.50,203.91 765.62,206.25C765.75,208.59 765.84,215.00 766,217.5C766.16,220.00 766.54,224.22 766.88,226.25C767.22,228.28 768.33,232.03 768.75,233.75C769.17,235.47 769.94,238.44 770.25,240C770.56,241.56 771.00,244.69 771.25,246.25C771.50,247.81 772.02,251.56 772.25,252.5C772.48,253.44 772.85,253.83 773.12,253.75C773.39,253.67 773.99,252.66 774.38,251.88C774.77,251.10 775.78,248.59 776.25,247.5C776.72,246.41 777.68,244.06 778.12,243.12C778.56,242.18 779.36,240.51 779.75,240C780.14,239.49 780.91,239.00 781.25,239C781.59,239.00 782.19,239.25 782.5,240C782.81,240.75 783.44,243.59 783.75,245C784.06,246.41 784.72,249.84 785,251.25C785.28,252.66 785.75,254.53 786,256.25C786.25,257.97 786.76,263.12 787,265C787.24,266.88 787.64,270.24 787.88,271.25C788.12,272.26 788.62,272.96 788.88,273.12C789.14,273.28 789.66,272.89 790,272.5C790.34,272.11 791.18,270.70 791.62,270C792.06,269.30 793.11,267.50 793.5,266.88C793.89,266.25 794.44,265.27 794.75,265C795.06,264.73 795.66,264.78 796,264.75C796.34,264.72 797.22,265.66 797.5,264.75C797.78,263.84 798.08,259.81 798.25,257.5C798.42,255.19 798.72,248.44 798.88,246.25C799.04,244.06 799.30,240.94 799.5,240C799.70,239.06 800.20,238.99 800.5,238.75C800.80,238.51 801.63,238.90 801.88,238.12C802.13,237.34 802.35,233.75 802.5,232.5C802.65,231.25 802.92,228.75 803.12,228.12C803.32,227.50 803.87,227.34 804.12,227.5C804.37,227.66 804.81,228.60 805.12,229.38C805.43,230.16 806.20,232.42 806.62,233.75C807.04,235.08 808.08,238.67 808.5,240C808.92,241.33 809.66,243.63 810,244.38C810.34,245.13 810.97,246.00 811.25,246C811.53,246.00 811.94,245.13 812.25,244.38C812.56,243.63 813.36,241.17 813.75,240C814.14,238.83 815.07,236.41 815.38,235C815.69,233.59 816.05,230.24 816.25,228.75C816.45,227.26 816.83,223.93 817,223.12C817.17,222.31 817.43,222.05 817.62,222.25C817.81,222.45 818.23,224.28 818.5,224.75C818.77,225.22 819.36,225.84 819.75,226C820.14,226.16 821.07,226.08 821.62,226C822.17,225.92 823.57,225.54 824.12,225.38C824.67,225.22 825.64,225.11 826,224.75C826.36,224.39 826.76,223.09 827,222.5C827.24,221.91 827.66,220.31 827.88,220C828.10,219.69 828.52,219.76 828.75,220C828.98,220.24 829.50,221.18 829.75,221.88C830.00,222.58 830.52,224.14 830.75,225.62C830.98,227.10 831.40,231.64 831.62,233.75C831.84,235.86 832.26,240.31 832.5,242.5C832.74,244.69 833.25,249.92 833.5,251.25C833.75,252.58 834.22,252.96 834.5,253.12C834.78,253.28 835.38,253.05 835.75,252.5C836.12,251.95 837.00,249.92 837.5,248.75C838.00,247.58 839.24,244.45 839.75,243.12C840.26,241.79 841.23,239.29 841.62,238.12C842.01,236.95 842.61,234.45 842.88,233.75C843.15,233.05 843.56,231.88 843.75,232.5C843.94,233.12 844.22,236.56 844.38,238.75C844.54,240.94 844.83,247.19 845,250C845.17,252.81 845.55,258.59 845.75,261.25C845.95,263.91 846.40,269.14 846.62,271.25C846.84,273.36 847.30,277.10 847.5,278.12C847.70,279.14 848.06,279.93 848.25,279.38C848.44,278.83 848.81,275.39 849,273.75C849.19,272.11 849.55,267.45 849.75,266.25C849.95,265.05 850.35,264.35 850.62,264.12C850.89,263.89 851.52,264.11 851.88,264.38C852.24,264.65 853.06,265.62 853.5,266.25C853.94,266.88 854.94,268.72 855.38,269.38C855.82,270.04 856.66,271.24 857,271.5C857.34,271.76 857.86,271.56 858.12,271.5C858.38,271.44 858.84,270.88 859.12,271C859.40,271.12 860.02,272.12 860.38,272.5C860.74,272.88 861.61,273.84 862,274C862.39,274.16 863.22,274.25 863.5,273.75C863.78,273.25 864.06,271.25 864.25,270C864.44,268.75 864.78,264.72 865,263.75C865.22,262.78 865.69,262.36 866,262.25C866.31,262.14 867.03,262.54 867.5,262.88C867.97,263.22 869.19,264.42 869.75,265C870.31,265.58 871.53,266.88 872,267.5C872.47,268.12 873.16,268.91 873.5,270C873.84,271.09 874.39,273.99 874.75,276.25C875.11,278.51 876.02,285.31 876.38,288.12C876.74,290.93 877.36,296.64 877.62,298.75C877.88,300.86 878.26,304.03 878.5,305C878.74,305.97 879.25,306.97 879.5,306.5C879.75,306.03 880.22,302.69 880.5,301.25C880.78,299.81 881.33,296.80 881.75,295C882.17,293.20 883.38,288.68 883.88,286.88C884.38,285.08 885.31,282.03 885.75,280.62C886.19,279.21 887.07,276.35 887.38,275.62C887.69,274.89 888.03,274.51 888.25,274.75C888.47,274.99 888.92,276.06 889.12,277.5C889.32,278.94 889.68,283.75 889.88,286.25C890.08,288.75 890.61,295.47 890.75,297.5C890.89,299.53 890.81,300.78 891,302.5C891.19,304.22 891.91,309.30 892.25,311.25C892.59,313.20 893.44,316.40 893.75,318.12C894.06,319.84 894.55,322.89 894.75,325C894.95,327.11 895.22,332.89 895.38,335C895.54,337.11 895.77,340.63 896,341.88C896.23,343.13 896.83,344.50 897.25,345C897.67,345.50 898.80,345.80 899.38,345.88C899.96,345.96 901.30,345.73 901.88,345.62C902.46,345.51 903.53,345.47 904,345C904.47,344.53 905.26,342.82 905.62,341.88C905.98,340.94 906.57,338.24 906.88,337.5C907.19,336.76 907.81,336.16 908.12,336C908.43,335.84 909.11,335.67 909.38,336.25C909.65,336.83 910.06,339.06 910.25,340.62C910.44,342.18 910.72,347.23 910.88,348.75C911.04,350.27 911.30,352.36 911.5,352.75C911.70,353.14 912.22,352.69 912.5,351.88C912.78,351.07 913.36,348.36 913.75,346.25C914.14,344.14 915.15,337.81 915.62,335C916.09,332.19 917.08,326.09 917.5,323.75C917.92,321.41 918.66,317.58 919,316.25C919.34,314.92 919.97,313.43 920.25,313.12C920.53,312.81 921.02,313.12 921.25,313.75C921.48,314.38 921.89,317.31 922.12,318.12C922.35,318.93 922.88,320.25 923.12,320.25C923.36,320.25 923.78,319.71 924,318.12C924.22,316.53 924.66,310.39 924.88,307.5C925.10,304.61 925.56,297.66 925.75,295C925.94,292.34 926.19,287.89 926.38,286.25C926.57,284.61 926.94,282.66 927.25,281.88C927.56,281.10 928.36,280.31 928.88,280C929.40,279.69 930.75,279.46 931.38,279.38C932.00,279.30 933.46,279.07 933.88,279.38C934.30,279.69 934.55,280.79 934.75,281.88C934.95,282.97 935.33,286.79 935.5,288.12C935.67,289.45 935.93,291.98 936.12,292.5C936.31,293.02 936.76,292.51 937,292.25C937.24,291.99 937.72,290.63 938,290.38C938.28,290.13 938.88,290.11 939.25,290.25C939.62,290.39 940.78,291.34 941,291.5"/>
<line x1="411.6" x2="435" y1="545.5" y2="545.5" stroke="#1c1548" stroke-width="1.7" stroke-linecap="round"/>
<text class="leg" x="437.8" y="550.2">DXY</text>
<line x1="525.9" x2="549.4" y1="545.5" y2="545.5" stroke="#0a9eec" stroke-width="1.7" stroke-linecap="round"/>
<text class="leg" x="552.3" y="550.2">GBPUSD</text>
</svg></body></html>
